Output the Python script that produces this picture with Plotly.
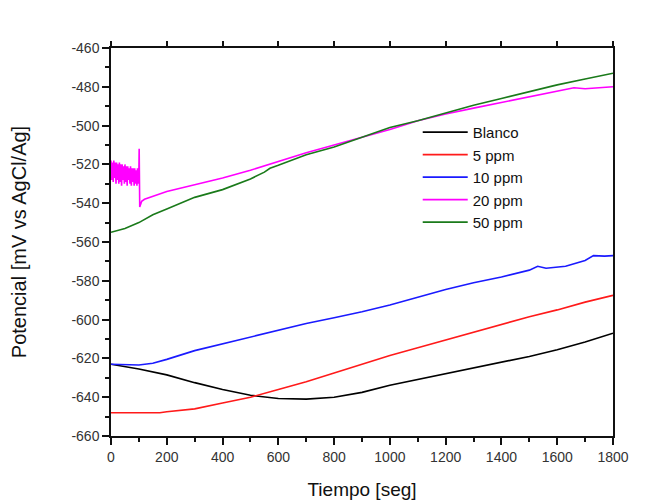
import plotly.graph_objects as go

# ---- data ----
blanco_t = [0, 100, 200, 300, 400, 500, 600, 700, 800, 900, 1000, 1100, 1200, 1300, 1400, 1500, 1600, 1700, 1800]
blanco_v = [-623, -625.5, -628.5, -632.5, -636, -639, -640.7, -641, -640, -637.5, -633.8, -630.8, -627.8, -625, -622, -619, -615.5, -611.5, -607]

p5_t = [0, 100, 175, 200, 300, 400, 500, 600, 700, 800, 900, 1000, 1100, 1200, 1300, 1400, 1500, 1600, 1700, 1800]
p5_v = [-648, -648.2, -648, -647.5, -646, -643, -640, -636, -632, -627.5, -623, -618.5, -614.5, -610.5, -606.5, -602.5, -598.5, -595, -591, -587.5]

p10_t = [0, 50, 100, 150, 200, 300, 400, 500, 600, 700, 800, 900, 1000, 1100, 1200, 1300, 1400, 1500, 1530, 1560, 1630, 1700, 1730, 1770, 1800]
p10_v = [-623, -623.3, -623.4, -622.5, -620.5, -616, -612.5, -609, -605.5, -602, -599, -596, -592.5, -588.5, -584.5, -581, -578, -574.5, -572.5, -573.5, -572.5, -569.5, -567, -567.3, -567]

p20_t = [0, 3, 5, 8, 10, 13, 15, 18, 20, 23, 25, 28, 30, 33, 35, 38, 40, 43, 45, 48,
         50, 53, 55, 58, 60, 63, 65, 68, 70, 73, 75, 78, 80, 83, 85, 88, 90, 93, 95, 98,
         100, 101, 103, 106, 110, 120, 150, 200, 300, 400, 500, 600, 700, 800, 900, 1000,
         1100, 1200, 1300, 1400, 1500, 1600, 1660, 1700, 1750, 1800]
p20_v = [-518, -528, -519, -529, -518, -527, -519, -530, -519, -528, -520, -530, -519, -529, -520, -531, -520, -528, -521, -530,
         -520, -529, -521, -531, -521, -528, -522, -530, -521, -531, -522, -529, -522, -531, -522, -530, -523, -531, -522, -530,
         -523, -512, -542, -540, -539, -538, -536.5, -534, -530.5, -527, -523, -518.5, -514, -510, -506, -502,
         -497.5, -494, -491, -488, -485, -482, -480.5, -481, -480.5, -480]

p50_t = [0, 50, 100, 150, 200, 300, 400, 500, 550, 570, 600, 700, 800, 900, 1000, 1100, 1200, 1300, 1400, 1500, 1600, 1700, 1800]
p50_v = [-555, -553, -550, -546, -543, -537, -533, -527.5, -524, -522, -520.5, -515, -511, -506, -501, -497.5, -493.5, -489.5, -486, -482.5, -479, -476, -473]

series_names = ["Blanco", "5 ppm", "10 ppm", "20 ppm", "50 ppm"]
series_colors = ["#000000", "#ff1a1a", "#1a1aff", "#ff00ff", "#1a7a1a"]

x_ticks = [0, 200, 400, 600, 800, 1000, 1200, 1400, 1600, 1800]
y_ticks = [-460, -480, -500, -520, -540, -560, -580, -600, -620, -640, -660]
y_ticktext = ["-460", "-480", "-500", "-520", "-540", "-560", "-580", "-600", "-620", "-640", "-660"]

fig = go.Figure()
data = [(blanco_t, blanco_v), (p5_t, p5_v), (p10_t, p10_v), (p20_t, p20_v), (p50_t, p50_v)]
for (t, v), name, col in zip(data, series_names, series_colors):
    fig.add_trace(go.Scatter(x=t, y=v, mode="lines", name=name,
                             line=dict(color=col, width=1.6)))

# dummy trace for top axis (major ticks only)
fig.add_trace(go.Scatter(x=[], y=[], xaxis="x2", showlegend=False, hoverinfo="skip"))

font_family = "Liberation Sans, Arial, sans-serif"
fig.update_layout(
    width=657, height=500,
    margin=dict(l=111, r=44, t=48, b=64, autoexpand=False),
    paper_bgcolor="white", plot_bgcolor="white",
    font=dict(family=font_family, color="#222"),
    showlegend=True,
    legend=dict(x=0.611, y=0.825, xanchor="left", yanchor="top",
                bgcolor="rgba(0,0,0,0)", borderwidth=0,
                font=dict(size=15, color="#111"), itemwidth=45),
    xaxis=dict(range=[0, 1800], tickvals=x_ticks, ticks="outside", ticklen=7, tickwidth=1.5,
               tickcolor="#111", showline=True, linecolor="#111", linewidth=1.5, mirror=True,
               showgrid=False, zeroline=False, automargin=False,
               minor=dict(dtick=100, ticks="outside", ticklen=4, tickwidth=1.5, tickcolor="#111"),
               tickfont=dict(size=14, color="#333"),
               title=dict(text="Tiempo [seg]", font=dict(size=19, color="#111"), standoff=27)),
    xaxis2=dict(range=[0, 1800], overlaying="x", side="top", tickvals=x_ticks, ticks="outside",
                ticklen=6, tickwidth=1.5, tickcolor="#111", showticklabels=False,
                showline=False, showgrid=False, zeroline=False, automargin=False),
    yaxis=dict(range=[-660, -460], tickvals=y_ticks, ticktext=y_ticktext, ticks="outside",
               ticklen=7, tickwidth=1.5, tickcolor="#111", showline=True, linecolor="#111",
               linewidth=1.5, mirror=True, showgrid=False, zeroline=False, automargin=False,
               minor=dict(dtick=10, ticks="outside", ticklen=4, tickwidth=1.5, tickcolor="#111"),
               tickfont=dict(size=14, color="#333"),
               title=dict(text="Potencial [mV vs AgCl/Ag]", font=dict(size=20, color="#111"), standoff=39)),
)

fig.write_html("out.html")
